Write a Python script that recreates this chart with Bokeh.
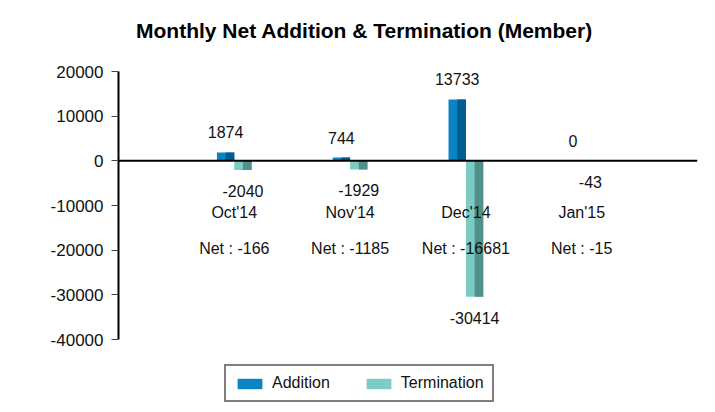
from bokeh.plotting import figure
from bokeh.models import ColumnDataSource, Span, Legend, LegendItem, FixedTicker, Label, Range1d
from bokeh.core.properties import value
from bokeh.embed import file_html
from bokeh.resources import INLINE

months = ["Oct'14", "Nov'14", "Dec'14", "Jan'15"]
addition = [1874, 744, 13733, 0]
termination = [-2040, -1929, -30414, -43]
net_labels = ["Net : -166", "Net : -1185", "Net : -16681", "Net : -15"]
y_ticks = [-40000, -30000, -20000, -10000, 0, 10000, 20000]

ADD = "#0a84c2"
ADD_D = "#005d8f"
TERM = "#7ccbc4"
TERM_D = "#52918b"
FONT = "Liberation Sans"

W, H = 715, 412
left, frame_w = 118, 579
top_px, bot_px = 71, 339  # pixel rows of top/bottom ticks
ppu = (bot_px - top_px) / (max(y_ticks) - min(y_ticks))
y_end = max(y_ticks) + top_px / ppu
y_start = min(y_ticks) - (H - bot_px) / ppu

bw = 0.15
xs = [i + 1 for i in range(len(months))]
src = ColumnDataSource(dict(
    x=xs,
    xa=[x - bw / 2 for x in xs],
    xt=[x + bw / 2 for x in xs],
    xad=[x - bw / 2 + bw * 0.25 for x in xs],
    xtd=[x + bw / 2 + bw * 0.25 for x in xs],
    add=addition, term=termination,
    add_lbl=[str(v) for v in addition],
    term_lbl=[str(v) for v in termination],
    month=months, net=net_labels, zero=[0] * len(xs),
))

p = figure(width=W, height=H, output_backend="svg", toolbar_location=None,
           x_range=Range1d(0, len(months) + 1), y_range=Range1d(y_start, y_end),
           x_axis_type=None, min_border_left=left, min_border_right=W - left - frame_w,
           min_border_top=0, min_border_bottom=0)
p.outline_line_color = None
p.xgrid.visible = False
p.ygrid.visible = False

ax = p.yaxis[0]
ax.ticker = FixedTicker(ticks=y_ticks)
ax.major_label_overrides = {t: str(t) for t in y_ticks}
ax.bounds = (min(y_ticks), max(y_ticks))
ax.axis_line_width = 2
ax.axis_line_color = "black"
ax.major_tick_out = 7
ax.major_tick_in = 0
ax.major_tick_line_color = "#444444"
ax.minor_tick_line_color = None
ax.major_label_text_font = FONT
ax.major_label_text_font_size = "17px"
ax.major_label_text_color = "#111111"
ax.major_label_standoff = 8

r_add = p.vbar(x="xa", top="add", bottom=0, width=bw, source=src, fill_color=ADD, line_color=None)
p.vbar(x="xad", top="add", bottom=0, width=bw * 0.5, source=src, fill_color=ADD_D, line_color=None)
r_term = p.vbar(x="xt", top="term", bottom=0, width=bw, source=src, fill_color=TERM, line_color=None)
p.vbar(x="xtd", top="term", bottom=0, width=bw * 0.5, source=src, fill_color=TERM_D, line_color=None)

p.add_layout(Span(location=0, dimension="width", line_color="black", line_width=2))

tk = dict(text_font=value(FONT), text_font_size="16px", text_color="#111111",
          text_align="center", text_baseline="middle", source=src)
p.text(x="xa", y="add", text="add_lbl", y_offset=-20, **tk)
p.text(x="xt", y="term", text="term_lbl", y_offset=21, **tk)
p.text(x="x", y="zero", text="month", y_offset=52, **tk)
p.text(x="x", y="zero", text="net", y_offset=88, **tk)

legend = Legend(items=[LegendItem(label="Addition", renderers=[r_add]),
                       LegendItem(label="Termination", renderers=[r_term])],
                orientation="horizontal", location=(106, 10), margin=0,
                padding=8, spacing=33, label_standoff=7,
                glyph_width=31, glyph_height=13,
                label_text_font=FONT, label_text_font_size="16px", label_text_color="#111111",
                border_line_color="black", border_line_width=2,
                background_fill_color="white", background_fill_alpha=1)
p.add_layout(legend)

title = Label(x=W / 2 + 6.5 - left, y=H - 30, x_units="screen", y_units="screen",
              text="Monthly Net Addition & Termination (Member)",
              text_font=FONT, text_font_size="21px", text_font_style="bold",
              text_align="center", text_baseline="middle", text_color="black")
p.add_layout(title)

open("out.html", "w").write(file_html(p, INLINE))
